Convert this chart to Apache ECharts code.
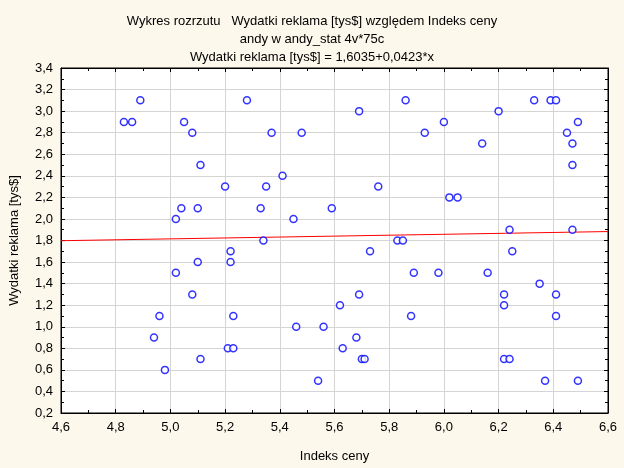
<!DOCTYPE html>
<html><head><meta charset="utf-8">
<script src="https://cdn.jsdelivr.net/npm/echarts@6/dist/echarts.min.js"></script>
<style>html,body{margin:0;padding:0;background:#fdf8ec;}#c{width:624px;height:468px;}</style>
</head><body><div id="c"></div>
<script>
var indeksCeny = [4.83,4.86,4.89,5.05,5.08,5.11,5.20,5.04,5.10,5.02,5.28,5.37,5.48,5.69,5.86,5.41,5.35,5.76,5.33,5.59,5.45,5.93,6.00,6.14,6.20,6.33,6.39,6.41,6.49,6.45,6.47,6.47,6.02,6.05,6.24,6.47,5.22,5.22,5.10,5.02,5.08,4.96,5.23,4.94,5.21,5.23,5.11,4.98,5.34,5.73,5.83,5.85,5.89,5.69,5.62,5.88,5.46,5.56,5.68,5.63,5.70,5.71,5.54,6.25,5.98,6.16,6.35,6.22,6.41,6.22,6.41,6.22,6.24,6.37,6.49];
var wydatki = [2.9,2.9,3.1,2.9,2.8,2.5,2.3,2.1,2.1,2.0,3.1,2.8,2.8,3.0,3.1,2.4,2.3,2.3,2.1,2.1,2.0,2.8,2.9,2.7,3.0,3.1,3.1,3.1,2.9,2.8,2.7,2.5,2.2,2.2,1.9,1.9,1.7,1.6,1.6,1.5,1.3,1.1,1.1,0.9,0.8,0.8,0.7,0.6,1.8,1.7,1.8,1.8,1.5,1.3,1.2,1.1,1.0,1.0,0.9,0.8,0.7,0.7,0.5,1.7,1.5,1.5,1.4,1.3,1.3,1.2,1.1,0.7,0.7,0.5,0.5];
var lineX = [4.6, 6.6];
var lineY = [1.798, 1.883];
var titleLines = ['Wykres rozrzutu   Wydatki reklama [tys$] względem Indeks ceny', 'andy w andy_stat 4v*75c', 'Wydatki reklama [tys$] = 1,6035+0,0423*x'];
var xName = 'Indeks ceny';
var yName = 'Wydatki reklama [tys$]';

var pts = indeksCeny.map(function(x,i){return [x, wydatki[i]];});
var linePts = lineX.map(function(x,i){return [x, lineY[i]];});
var fmt = function(v){return v.toFixed(1).replace('.', ',');};
var font = 'Liberation Sans, Arial, sans-serif';
var fs = 13;
var tickCommon = {show:true, inside:true, length:4, lineStyle:{color:'#000'}};
var minorCommon = {show:true, splitNumber:2, length:3, lineStyle:{color:'#000'}};

var chart = echarts.init(document.getElementById('c'), null, {renderer:'canvas'});
chart.setOption({
  backgroundColor:'#fdf8ec',
  animation:false,
  textStyle:{fontFamily:font},
  title:{text:titleLines.join('\n'), left:'center', top:7, textStyle:{fontSize:fs, fontWeight:'normal', color:'#000', fontFamily:font, lineHeight:18}},
  grid:{left:55, right:16, top:68, bottom:51, show:true, backgroundColor:'#fff', borderColor:'#000', borderWidth:1},
  xAxis:[
    {type:'value', min:4.6, max:6.6, interval:0.2, position:'bottom',
     name:xName, nameLocation:'middle', nameGap:37, nameTextStyle:{fontSize:fs, color:'#000', fontFamily:font},
     axisLine:{show:true, lineStyle:{color:'#000'}}, axisTick:tickCommon, minorTick:minorCommon,
     axisLabel:{formatter:fmt, fontSize:fs, color:'#000', margin:8, fontFamily:font},
     splitLine:{show:true, lineStyle:{color:'#d4d4d4', type:'solid'}}},
    {type:'value', min:4.6, max:6.6, interval:0.2, position:'top',
     axisLine:{show:true, lineStyle:{color:'#000'}}, axisTick:tickCommon, minorTick:minorCommon,
     axisLabel:{show:false}, splitLine:{show:false}}
  ],
  yAxis:[
    {type:'value', min:0.2, max:3.4, interval:0.2, position:'left',
     name:yName, nameLocation:'middle', nameGap:40, nameTextStyle:{fontSize:fs, color:'#000', fontFamily:font},
     axisLine:{show:true, lineStyle:{color:'#000'}}, axisTick:tickCommon, minorTick:minorCommon,
     axisLabel:{formatter:fmt, fontSize:fs, color:'#000', margin:8, fontFamily:font},
     splitLine:{show:true, lineStyle:{color:'#d4d4d4', type:'solid'}}},
    {type:'value', min:0.2, max:3.4, interval:0.2, position:'right',
     axisLine:{show:true, lineStyle:{color:'#000'}}, axisTick:tickCommon, minorTick:minorCommon,
     axisLabel:{show:false}, splitLine:{show:false}}
  ],
  series:[
    {type:'line', data:linePts, xAxisIndex:0, yAxisIndex:0, symbol:'none', lineStyle:{color:'#ff0000', width:1}, z:2},
    {type:'scatter', data:pts, xAxisIndex:0, yAxisIndex:0, symbol:'circle', symbolSize:7,
     itemStyle:{color:'#fff', borderColor:'#0000ff', borderWidth:1.5}, z:3}
  ]
});
</script></body></html>
